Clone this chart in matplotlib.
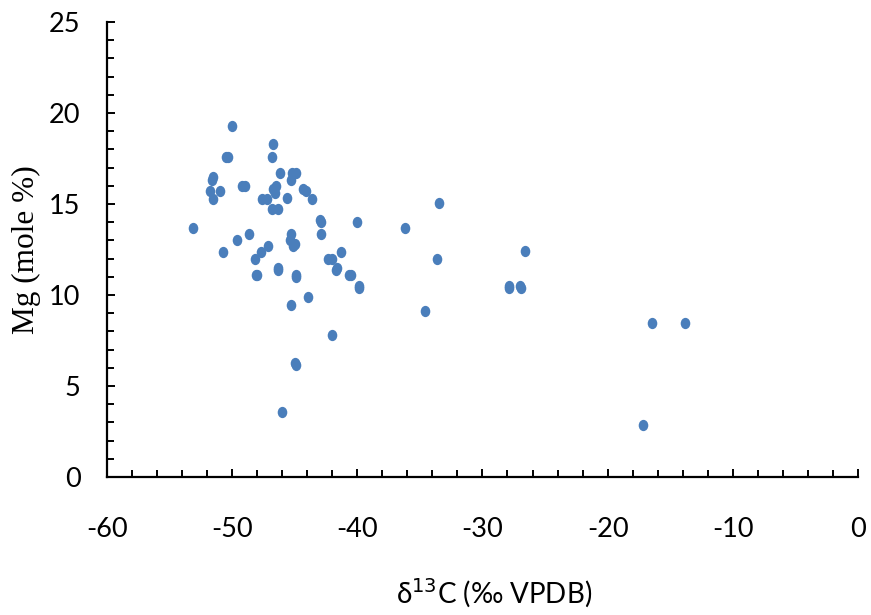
import matplotlib
matplotlib.use("Agg")
import matplotlib.pyplot as plt
from matplotlib.markers import MarkerStyle
from matplotlib.transforms import Affine2D
from matplotlib.ticker import MultipleLocator

# d13C (per mil VPDB) and Mg (mole %)
d13c = [
    -49.97, -46.7, -50.5, -50.3, -46.8, -46.2, -45.2, -44.9, -45.3, -51.6, -51.5,
    -49.2, -49.0, -51.75, -51.0, -51.5, -46.5, -46.7, -46.6, -47.6, -47.2,
    -45.6, -46.8, -46.3, -44.1, -44.3, -43.6, -53.1, -42.9, -43.0, -40.06, -42.9,
    -48.66, -45.3, -45.4, -45.1, -45.0, -49.6, -47.1, -47.7, -48.2, -50.7,
    -42.3, -42.0, -41.3, -41.7, -41.6, -40.65, -40.5, -39.9, -39.9, -48.0, -48.1,
    -46.3, -46.3, -44.9, -44.9, -43.9, -45.3, -42.0, -44.9, -45.0, -46.0,
    -33.5, -36.2, -33.6, -26.6, -27.85, -27.9, -26.9, -27.0, -34.6,
    -16.45, -13.8, -17.2,
]
mg = [
    19.3, 18.3, 17.6, 17.6, 17.6, 16.7, 16.7, 16.7, 16.3, 16.3, 16.5,
    16.0, 16.0, 15.7, 15.7, 15.3, 16.0, 15.8, 15.6, 15.3, 15.3,
    15.35, 14.7, 14.7, 15.7, 15.8, 15.3, 13.7, 14.0, 14.1, 14.0, 13.35,
    13.35, 13.35, 13.0, 12.7, 12.8, 13.0, 12.7, 12.35, 12.0, 12.35,
    12.0, 12.0, 12.35, 11.4, 11.5, 11.1, 11.1, 10.4, 10.5, 11.1, 11.1,
    11.4, 11.5, 11.1, 11.0, 9.9, 9.45, 7.8, 6.15, 6.25, 3.55,
    15.05, 13.7, 12.0, 12.4, 10.4, 10.5, 10.4, 10.5, 9.12,
    8.44, 8.44, 2.86,
]

plt.rcParams["axes.unicode_minus"] = False

fig = plt.figure(figsize=(8.71, 6.15), dpi=100)
ax = fig.add_axes([0.1228, 0.2244, 0.8622, 0.7398])

oval = MarkerStyle("o", transform=Affine2D().scale(0.85, 1.0))
ax.scatter(d13c, mg, s=66, marker=oval, color="#4A7EBB", linewidths=0, zorder=3)

ax.set_xlim(-60, 0)
ax.set_ylim(0, 25)
ax.xaxis.set_major_locator(MultipleLocator(10))
ax.xaxis.set_minor_locator(MultipleLocator(2))
ax.yaxis.set_major_locator(MultipleLocator(5))
ax.yaxis.set_minor_locator(MultipleLocator(1))

for side in ("top", "right"):
    ax.spines[side].set_visible(False)
for side in ("left", "bottom"):
    ax.spines[side].set_linewidth(1.6)

ax.tick_params(which="both", direction="in", width=1.4, color="black")
ax.tick_params(which="major", length=6)
ax.tick_params(which="minor", length=5)
ax.tick_params(axis="x", which="major", pad=29)
ax.tick_params(axis="y", which="major", pad=19)
for lbl in ax.get_xticklabels() + ax.get_yticklabels():
    lbl.set_fontfamily("Lato")
    lbl.set_fontsize(19.5)

ax.set_xlabel("δ$^{13}$C (‰ VPDB)", fontfamily="Lato", fontsize=20)
ax.xaxis.set_label_coords(0.515, -0.218)
ax.set_ylabel("Mg (mole %)", fontfamily="Liberation Serif", fontsize=22.5,
              labelpad=6)

fig.savefig("out.png", dpi=100)
